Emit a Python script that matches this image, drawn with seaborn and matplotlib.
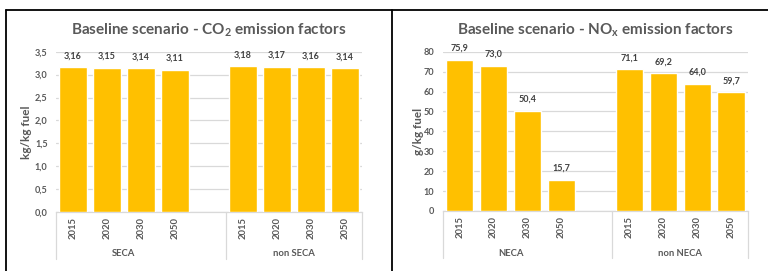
import matplotlib
matplotlib.use("Agg")
import matplotlib.pyplot as plt
import seaborn as sns
import pandas as pd
from matplotlib.lines import Line2D

# data
years = ["2015", "2020", "2030", "2050"]
co2_groups = ["SECA", "non SECA"]
co2_seca = [3.16, 3.15, 3.14, 3.11]
co2_non_seca = [3.18, 3.17, 3.16, 3.14]
nox_groups = ["NECA", "non NECA"]
nox_neca = [75.9, 73.0, 50.4, 15.7]
nox_non_neca = [71.1, 69.2, 64.0, 59.7]

BAR = "#FFC000"
GRID = "#D9D9D9"
TXT = "#595959"
LBL = "#404040"

sns.set_theme(style="white")
plt.rcParams["font.family"] = ["Lato", "DejaVu Sans"]
plt.rcParams["mathtext.default"] = "regular"


def build(groups, vals_a, vals_b):
    rows = []
    for g, vals in zip(groups, [vals_a, vals_b]):
        for y, v in zip(years, vals):
            rows.append({"slot": f"{g} {y}", "value": v, "group": g, "year": y})
    df = pd.DataFrame(rows)
    order = [f"{groups[0]} {y}" for y in years] + ["gap"] + [f"{groups[1]} {y}" for y in years]
    return df, order


def fmt2(v):
    return (f"{v:.2f}" if v < 10 else f"{v:.1f}").replace(".", ",")


def panel(ax, groups, vals_a, vals_b, ymax, ystep, fmt, title, ylabel, h_px, lpad):
    df, order = build(groups, vals_a, vals_b)
    sns.barplot(data=df, x="slot", y="value", order=order, color=BAR,
                saturation=1, width=0.8, ax=ax, errorbar=None, zorder=3)
    ax.set_xlim(-0.5, len(order) - 0.5)
    ax.set_ylim(0, ymax)
    ticks = [i * ystep for i in range(int(round(ymax / ystep)) + 1)]
    ax.set_yticks(ticks)
    ax.set_yticklabels([fmt(t) for t in ticks], fontsize=6.6, color=TXT, fontweight="bold")
    ax.tick_params(axis="y", length=0, pad=6)
    ax.grid(axis="y", color=GRID, linewidth=0.9, zorder=0)
    for s in ["left", "right", "top"]:
        ax.spines[s].set_visible(False)
    ax.spines["bottom"].set_color(GRID)
    ax.spines["bottom"].set_linewidth(0.9)
    ax.set_xticks([])
    ax.set_xlabel("")
    ax.set_ylabel(ylabel, fontsize=8.5, color=TXT, fontweight="bold", labelpad=lpad)
    ax.set_title(title, fontsize=11, color=TXT, fontweight="bold", pad=12)

    # value labels
    for c in ax.containers:
        ax.bar_label(c, labels=[fmt2(v) for v in c.datavalues],
                     padding=5, fontsize=6.5, color=LBL, fontweight="bold")

    # category axis: years, groups, separators
    depth = 47 / h_px
    for i, slot in enumerate(order):
        if slot == "gap":
            continue
        ax.text(i, -16 / h_px, slot.split()[-1], transform=ax.get_xaxis_transform(),
                rotation=90, ha="center", va="center", fontsize=6.8, color=TXT,
                fontweight="bold")
    for gx, g in [(1.5, groups[0]), (6.5, groups[1])]:
        ax.text(gx, -42 / h_px, g, transform=ax.get_xaxis_transform(),
                ha="center", va="center", fontsize=6.8, color=TXT, fontweight="bold")
    for sx in [-0.5, 4.5, 8.5]:
        ax.add_line(Line2D([sx, sx], [0, -depth], transform=ax.get_xaxis_transform(),
                           color=GRID, linewidth=0.9, clip_on=False))


fig = plt.figure(figsize=(7.68, 2.71), dpi=100)
W, H = 768, 271
ax1 = fig.add_axes([56 / W, 59 / H, 306 / W, 160.3 / H])
ax2 = fig.add_axes([442.7 / W, 60 / H, 305.3 / W, 159.3 / H])

panel(ax1, co2_groups, co2_seca, co2_non_seca, 3.5, 0.5,
      lambda t: f"{t:.1f}".replace(".", ","),
      "Baseline scenario - CO$_2$ emission factors", "kg/kg fuel", 160.3, 2)
panel(ax2, nox_groups, nox_neca, nox_non_neca, 80, 10,
      lambda t: f"{t:.0f}",
      "Baseline scenario - NO$_x$ emission factors", "g/kg fuel", 159.3, 0)

# table frame around the two charts
y_top = 1 - 10 / H
fig.add_artist(Line2D([6 / W, 1], [y_top, y_top], color="black", linewidth=1.3))
fig.add_artist(Line2D([6 / W, 6 / W], [0, y_top], color="black", linewidth=1.3))
fig.add_artist(Line2D([392 / W, 392 / W], [0, y_top], color="black", linewidth=1.3))

fig.savefig("out.png", dpi=100)
